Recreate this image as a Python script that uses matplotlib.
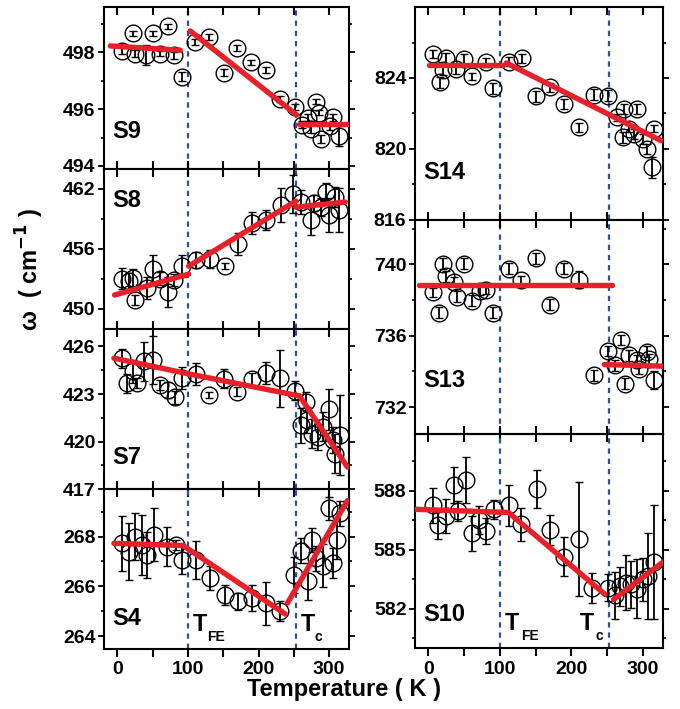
import matplotlib
matplotlib.use('Agg')
import matplotlib.pyplot as plt

plt.rcParams['font.family'] = ['Liberation Sans', 'DejaVu Sans']
plt.rcParams['font.weight'] = 'bold'

# ---- data (temperature in K, frequency in cm^-1) ----
S9_T = [6, 22, 25, 41, 51, 61, 72, 80, 91, 110, 130, 151, 170, 190, 211, 230, 251, 262, 270, 274, 281, 285, 288, 302, 306, 314]
S9_w = [498.06, 498.67, 497.96, 497.9, 498.67, 497.96, 498.92, 497.9, 497.15, 498.37, 498.55, 497.29, 498.16, 497.65, 497.37,
        496.35, 496.07, 495.45, 495.7, 495.3, 496.27, 495.88, 494.95, 495.4, 495.72, 495.06]
S9_e = [0.12, 0.1, 0.12, 0.35, 0.1, 0.1, 0.1, 0.12, 0.15, 0.1, 0.1, 0.12, 0.12, 0.1, 0.1,
        0.1, 0.1, 0.12, 0.12, 0.15, 0.1, 0.1, 0.15, 0.12, 0.12, 0.35]

S8_T = [6, 16, 22, 25, 42, 51, 61, 71, 80, 91, 111, 131, 152, 171, 191, 211, 232, 249, 260, 274, 279, 288, 295, 300, 309, 314]
S8_w = [453.04, 452.8, 453.1, 450.9, 452.05, 453.94, 453.04, 451.7, 452.9, 454.27, 454.87, 455.0, 454.27, 456.5, 458.6,
        458.85, 460.4, 461.44, 460.7, 458.85, 460.6, 460.2, 461.7, 459.35, 461.2, 459.85]
S8_e = [1.05, 0.8, 0.9, 0.5, 1.1, 1.45, 0.6, 1.5, 0.6, 1.1, 0.8, 0.9, 0.3, 1.1, 1.1,
        1.0, 1.7, 1.9, 1.2, 1.5, 0.8, 0.9, 0.9, 1.7, 1.0, 2.2]

S7_T = [6, 14, 22, 28, 37, 51, 60, 71, 82, 92, 111, 130, 151, 170, 191, 211, 231, 251, 260, 267, 269, 276, 284, 291, 300, 305, 309, 316]
S7_w = [425.26, 423.68, 424.42, 423.68, 425.05, 425.16, 423.57, 423.26, 422.8, 424.0, 424.25, 422.94, 423.95, 423.15, 423.93,
        424.31, 424.0, 423.2, 421.04, 422.52, 421.36, 420.5, 420.3, 420.94, 422.03, 420.1, 419.25, 420.41]
S7_e = [0.6, 0.6, 0.7, 0.3, 1.2, 1.5, 0.3, 0.5, 0.4, 0.7, 0.7, 0.2, 0.6, 0.3, 0.4,
        0.7, 1.8, 0.6, 1.1, 0.6, 0.8, 0.9, 0.8, 0.9, 1.3, 0.8, 1.2, 2.5]

S4_T = [6, 16, 25, 35, 42, 52, 70, 83, 92, 111, 131, 152, 171, 191, 211, 231, 250, 260, 270, 276, 281, 291, 300, 305, 311, 316]
S4_w = [267.73, 267.4, 268.0, 267.67, 267.27, 268.07, 267.6, 267.67, 267.07, 267.07, 266.33, 265.67, 265.4, 265.53, 265.33,
        265.03, 266.47, 267.43, 266.2, 267.87, 267.13, 266.83, 269.13, 266.93, 267.87, 268.93]
S4_e = [1.1, 1.15, 0.93, 1.2, 0.93, 1.07, 0.77, 0.2, 0.57, 0.77, 0.48, 0.4, 0.33, 0.53, 0.86,
        0.4, 0.73, 0.5, 0.73, 0.47, 0.5, 0.87, 0.47, 0.6, 0.77, 0.5]

S14_T = [6, 16, 21, 25, 39, 50, 61, 80, 90, 112, 131, 151, 170, 190, 211, 231, 251, 264, 272, 274, 281, 288, 291, 300, 305, 312, 316]
S14_w = [825.35, 823.76, 824.47, 825.1, 824.5, 825.07, 824.1, 824.88, 823.42, 824.92, 825.1, 822.97, 823.47, 822.54, 821.22,
         823.06, 823.0, 821.78, 820.66, 822.25, 821.13, 820.85, 822.25, 820.56, 820.0, 818.97, 821.13]
S14_e = [0.25, 0.3, 0.3, 0.3, 0.3, 0.3, 0.2, 0.25, 0.3, 0.25, 0.25, 0.3, 0.25, 0.3, 0.25,
         0.3, 0.3, 0.2, 0.3, 0.3, 0.2, 0.3, 0.3, 0.3, 0.3, 0.6, 0.2]

S13_T = [6, 15, 21, 25, 36, 40, 50, 61, 72, 81, 90, 112, 130, 151, 170, 190, 211, 231, 251, 261, 269, 275, 280, 291, 295, 305, 309, 316]
S13_w = [738.44, 737.3, 740.04, 739.34, 739.02, 738.2, 740.04, 737.97, 738.53, 738.59, 737.3, 739.77, 739.1, 740.34, 737.74,
         739.77, 739.15, 733.79, 735.14, 734.35, 735.76, 733.31, 734.9, 734.63, 734.16, 735.1, 734.7, 733.5]
S13_e = [0.25, 0.3, 0.3, 0.3, 0.25, 0.3, 0.3, 0.3, 0.25, 0.25, 0.3, 0.3, 0.25, 0.3, 0.3,
         0.3, 0.5, 0.3, 0.3, 0.3, 0.3, 0.3, 0.3, 0.3, 0.3, 0.3, 0.3, 0.5]

S10_T = [6, 14, 25, 36, 41, 52, 61, 71, 81, 92, 112, 130, 152, 170, 190, 210, 229, 251, 261, 268, 276, 283, 291, 300, 307, 316]
S10_w = [587.27, 586.25, 586.72, 588.29, 586.98, 588.56, 585.84, 586.52, 585.96, 587.06, 587.27, 586.3, 588.09, 586.0, 584.65,
         585.53, 583.07, 583.07, 582.68, 583.15, 583.32, 583.24, 583.02, 583.5, 583.66, 584.38]
S10_e = [0.9, 0.68, 0.88, 0.9, 0.5, 1.17, 0.9, 0.72, 0.68, 0.47, 1.05, 0.83, 0.96, 0.77, 0.98,
         2.9, 0.77, 0.68, 1.2, 1.0, 1.4, 1.2, 1.5, 1.1, 2.2, 2.9]

# fitted segments: (T start, T end, w start, w end)
S9_fit = [(-10, 89, 498.23, 498.08), (103, 254, 498.76, 495.8), (257, 328, 495.47, 495.47)]
S8_fit = [(-4, 101, 451.39, 453.48), (101, 253, 454.27, 460.77), (253, 323, 460.17, 460.67)]
S7_fit = [(-5, 101, 425.26, 424.27), (101, 258, 424.27, 422.88), (258, 326, 422.88, 418.4)]
S4_fit = [(-5, 93, 267.73, 267.64), (93, 238, 267.64, 264.89), (241, 326, 265.33, 269.44)]
S14_fit = [(1, 104, 824.75, 824.75), (109, 325, 824.85, 820.47)]
S13_fit = [(-13, 257, 738.87, 738.87), (246, 334, 734.39, 734.29)]
S10_fit = [(-17, 112, 587.06, 586.9), (112, 247, 586.9, 582.73), (259, 330, 582.47, 584.43)]

T_FE = 100
T_C = 253

RED = '#e8202a'
BLUE = '#2f4fa5'

fig = plt.figure(figsize=(6.8, 7.09), dpi=100)


def panel(rect, T, w, e, fits, name, ylim, major, minor, name_y, bottom=False):
    ax = fig.add_axes(rect)
    ax.axvline(T_FE, color=BLUE, lw=1.6, ls=(0, (2.4, 2.2)), zorder=1)
    ax.axvline(T_C, color=BLUE, lw=1.6, ls=(0, (2.4, 2.2)), zorder=1)
    ax.errorbar(T, w, yerr=e, fmt='o', ms=12, mfc='none', mec='black', mew=1.0,
                ecolor='black', elinewidth=1.3, capsize=3.2, capthick=1.3, zorder=2)
    for t0, t1, w0, w1 in fits:
        ax.plot([t0, t1], [w0, w1], color=RED, lw=3.9, solid_capstyle='round', zorder=3)
    ax.set_xlim(-19, 328)
    ax.set_ylim(*ylim)
    ax.set_yticks(major)
    ax.set_yticks(minor, minor=True)
    ax.set_xticks([0, 50, 100, 150, 200, 250, 300])
    for s in ax.spines.values():
        s.set_linewidth(1.5)
    ax.tick_params(axis='y', which='major', direction='out', length=4, width=1.3,
                   right=True, labelsize=14, pad=2)
    ax.tick_params(axis='y', which='minor', direction='out', length=2.5, width=1.2, right=True)
    if bottom:
        ax.set_xticklabels(['0', '', '100', '', '200', '', '300'])
        ax.tick_params(axis='x', direction='out', length=6, width=1.5, labelsize=14, pad=3)
        sec = ax.secondary_xaxis('top')
        sec.set_xticks([0, 50, 100, 150, 200, 250, 300])
        sec.tick_params(direction='in', length=6, width=1.5, labeltop=False)
    else:
        ax.tick_params(axis='x', direction='in', length=6, width=1.5, top=True,
                       labelbottom=False)
    ax.text(0.035, name_y, name, transform=ax.transAxes, fontsize=17, fontweight='bold',
            ha='left', va='center')
    return ax


L0, LW = 0.153, 0.360
R0, RW = 0.610, 0.365

panel([L0, 0.762, LW, 0.228], S9_T, S9_w, S9_e, S9_fit, 'S9', (493.9, 499.6),
      [494, 496, 498], [495, 497, 499], 0.23)
panel([L0, 0.536, LW, 0.226], S8_T, S8_w, S8_e, S8_fit, 'S8', (448, 464),
      [450, 456, 462], [453, 459], 0.80)
panel([L0, 0.310, LW, 0.226], S7_T, S7_w, S7_e, S7_fit, 'S7', (417, 427.1),
      [417, 420, 423, 426], [418.5, 421.5, 424.5], 0.20)
ax4 = panel([L0, 0.085, LW, 0.225], S4_T, S4_w, S4_e, S4_fit, 'S4', (263.5, 269.9),
            [264, 266, 268], [265, 267, 269], 0.19, bottom=True)

panel([R0, 0.690, RW, 0.300], S14_T, S14_w, S14_e, S14_fit, 'S14', (816, 828),
      [816, 820, 824], [818, 822, 826], 0.22)
panel([R0, 0.388, RW, 0.302], S13_T, S13_w, S13_e, S13_fit, 'S13', (730.5, 742.5),
      [732, 736, 740], [734, 738, 742], 0.25)
ax10 = panel([R0, 0.086, RW, 0.302], S10_T, S10_w, S10_e, S10_fit, 'S10', (580, 590.9),
             [582, 585, 588], [580.5, 583.5, 586.5, 589.5], 0.155, bottom=True)

# transition labels
ax4.text(107, 264.2, 'T', fontsize=17, fontweight='bold', va='baseline')
ax4.text(127, 263.8, 'FE', fontsize=10, fontweight='bold', va='baseline')
ax4.text(260, 264.2, 'T', fontsize=17, fontweight='bold', va='baseline')
ax4.text(280, 263.8, 'c', fontsize=10, fontweight='bold', va='baseline')
ax10.text(107, 580.94, 'T', fontsize=17, fontweight='bold', va='baseline')
ax10.text(129, 580.43, 'FE', fontsize=10, fontweight='bold', va='baseline')
ax10.text(211, 580.94, 'T', fontsize=17, fontweight='bold', va='baseline')
ax10.text(233, 580.43, 'c', fontsize=10, fontweight='bold', va='baseline')

fig.text(0.506, 0.027, 'Temperature ( K )', ha='center', va='center', fontsize=17, fontweight='bold')
fig.text(0.044, 0.62, r'ω  ( cm$^{\mathbf{-1}}$ )', ha='center', va='center', rotation=90,
         fontsize=17, fontweight='bold')

fig.savefig('out.png', dpi=100)
